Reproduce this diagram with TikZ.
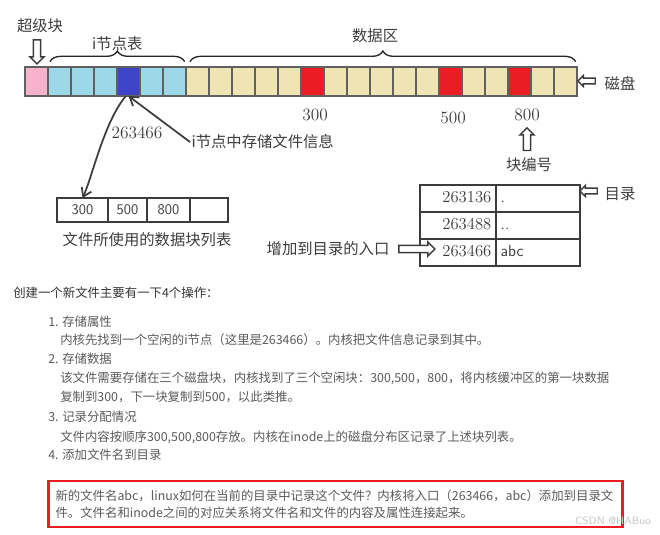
\documentclass[tikz,border=0pt]{standalone}
\usepackage{fontspec}
\newfontfamily\cjk{Noto Sans CJK SC}
\usetikzlibrary{positioning, shapes.arrows, decorations.pathreplacing, arrows.meta}
\definecolor{sbpink}{HTML}{F7B3CB}
\definecolor{inodeblue}{HTML}{9DD8E8}
\definecolor{inodesel}{HTML}{3D45C6}
\definecolor{databeige}{HTML}{EEE4B4}
\definecolor{datared}{HTML}{EC1C24}
\definecolor{inkgray}{HTML}{3C3C3C}
\definecolor{txtgray}{HTML}{5A5A5A}

\begin{document}
\begin{tikzpicture}[x=0.75pt, y=-0.75pt,
    blk/.style = {rectangle, draw=gray!75!black, line width=1.4pt, minimum width=17.25pt, minimum height=21.75pt, inner sep=0pt, outer sep=0pt},
    lbl/.style = {font=\cjk\fontsize{11.5}{13}\selectfont, text=inkgray, inner sep=1pt},
    num/.style = {font=\fontsize{13}{15}\selectfont, text=inkgray, inner sep=1pt},
    brc/.style = {decorate, decoration={brace, amplitude=8pt}, draw=black!85, line width=1pt},
    holarr/.style = {single arrow, draw=inkgray, fill=white, line width=1.1pt, inner sep=2.2pt, single arrow head extend=2.5pt},
    ink/.style = {draw=inkgray, line width=1.3pt},
    lcell/.style = {rectangle, draw=inkgray, line width=1pt, minimum height=18pt, inner sep=0pt, outer sep=0pt, font=\sffamily\fontsize{11}{13}\selectfont, text=inkgray},
    dcell/.style = {rectangle, draw=inkgray, line width=1pt, minimum height=20.25pt, inner xsep=3.5pt, inner ysep=0pt, outer sep=0pt, text height=9pt, text depth=2.5pt, text=inkgray},
    dnum/.style = {dcell, text width=50pt, align=right, font=\fontsize{12.5}{14}\selectfont},
    dname/.style = {dcell, text width=56pt, align=left, font=\sffamily\fontsize{12}{14}\selectfont},
    body/.style = {anchor=west, font=\cjk\fontsize{9.3}{11}\selectfont, text=txtgray, inner sep=0pt}
]
\useasboundingbox (0,0) rectangle (660,535);

% disk blocks
\foreach \k/\c in {1/sbpink, 2/inodeblue, 3/inodeblue, 4/inodeblue, 5/inodesel, 6/inodeblue, 7/inodeblue,
    8/databeige, 9/databeige, 10/databeige, 11/databeige, 12/databeige, 13/datared,
    14/databeige, 15/databeige, 16/databeige, 17/databeige, 18/databeige, 19/datared,
    20/databeige, 21/databeige, 22/datared, 23/databeige, 24/databeige}
  \node[blk, fill=\c] (b\k) at ({36.5+23*(\k-1)}, 81.5) {};

% braces and their labels
\draw[brc] ([xshift=1.5pt, yshift=4pt]b2.north west) -- ([xshift=-1pt, yshift=4pt]b7.north east)
  node[lbl, midway, above=7pt] (inodelbl) {i节点表};
\draw[brc] ([xshift=3pt, yshift=4pt]b8.north west) -- ([xshift=-1pt, yshift=4pt]b24.north east)
  node[lbl, pos=0.48, above=13pt] (datalbl) {数据区};

% superblock, disk
\node[lbl] (sblbl) at (40,26) {超级块};
\node[holarr, rotate=-90, minimum height=18pt] (sbarr) at (37,50) {};
\node[lbl] (disklbl) at (620,83) {磁盘};
\node[holarr, rotate=180, minimum height=13pt, inner sep=1.6pt, single arrow head extend=2pt] (diskarr) at (588,81) {};

% block numbers
\node[num] (n300) at (315,115) {300};
\node[num] (n500) at (453,118) {500};
\node[num] (n800) at (527,115) {800};
\node[holarr, rotate=90, minimum height=17pt] (blkarr) at (527,141) {};
\node[lbl] (blklbl) at (529,165) {块编号};

% inode
\node[num] (inum) at (137,133) {263466};
\node[lbl, anchor=west] (info) at (190,142) {i节点中存储文件信息};
\draw[ink, -{Straight Barb[length=6pt, width=8pt]}] (info.west) -- (b5.south);

% block list of the file
\node[lcell, minimum width=38.25pt] (c1) at (82.5,210) {300};
\node[lcell, minimum width=29.25pt, right=0pt of c1] (c2) {500};
\node[lcell, minimum width=32.25pt, right=0pt of c2] (c3) {800};
\node[lcell, minimum width=28.5pt, right=0pt of c3] (c4) {};
\node[lbl] (listlbl) at (147,240) {文件所使用的数据块列表};
\draw[ink, -{Straight Barb[length=6pt, width=8pt]}] ([xshift=-2pt]b5.south) .. controls (104,122) and (92,178) .. (c1.north);

% directory
\node[dnum] (d1n) at (458,198.5) {263136};
\node[dname, right=0pt of d1n] (d1f) {.};
\node[dnum, below=0pt of d1n] (d2n) {263488};
\node[dname, right=0pt of d2n] (d2f) {..};
\node[dnum, below=0pt of d2n] (d3n) {263466};
\node[dname, right=0pt of d3n] (d3f) {abc};
\node[lbl] (dirlbl) at (620,194) {目录};
\node[holarr, rotate=180, minimum height=13pt, inner sep=1.6pt, single arrow head extend=2pt] (dirarr) at (590,191) {};
\node[lbl] (entrylbl) at (328,249) {增加到目录的入口};
\node[holarr, minimum height=27pt] (entryarr) at (415,249) {};

% text below
\node[body, text=black!80] (title) at (13,293) {创建一个新文件主要有一下4个操作：};
\node[body] (s1) at (48,322) {1. 存储属性};
\node[body] (s1a) at (60,340) {内核先找到一个空闲的i节点（这里是263466）。内核把文件信息记录到其中。};
\node[body] (s2) at (48,359) {2. 存储数据};
\node[body] (s2a) at (60,378) {该文件需要存储在三个磁盘块，内核找到了三个空闲块：300,500，800，将内核缓冲区的第一块数据};
\node[body] (s2b) at (60,397) {复制到300，下一块复制到500，以此类推。};
\node[body] (s3) at (48,417) {3. 记录分配情况};
\node[body] (s3a) at (60,437) {文件内容按顺序300,500,800存放。内核在inode上的磁盘分布区记录了上述块列表。};
\node[body] (s4) at (48,455) {4. 添加文件名到目录};
\node[draw=datared, line width=2.2pt, text width=420pt, inner xsep=5.5pt, minimum height=34.5pt, align=left,
  font=\cjk\fontsize{9.3}{12.75}\selectfont, text=txtgray] (note) at (335.5,504)
  {新的文件名abc，linux如何在当前的目录中记录这个文件？内核将入口（263466，abc）添加到目录文\\件。文件名和inode之间的对应关系将文件名和文件的内容及属性连接起来。};
\node[font=\sffamily\fontsize{8}{9}\selectfont, text=gray!45] (wm) at (613,521) {CSDN @HABuo};
\end{tikzpicture}
\end{document}
